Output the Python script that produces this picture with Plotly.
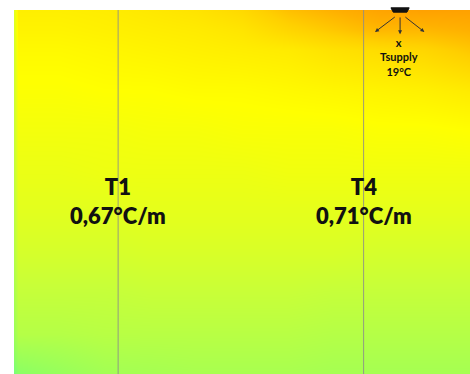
import plotly.graph_objects as go

# Room section: horizontal position (m) and height above floor (m)
x_pos = [0.0, 0.05, 0.6, 1.2, 1.8, 2.4, 3.0, 3.6, 4.2, 4.8, 5.4, 6.0]
heights = [0.0, 0.3, 0.6, 0.9, 1.2, 1.5, 1.8, 2.1, 2.4, 2.55, 2.7]

# Air temperature (°C), one row per height
temps = [
    [20.3, 20.5, 20.7, 20.9, 20.95, 21.0, 21.0, 21.0, 20.95, 20.95, 20.95, 20.95],
    [20.8, 21.2, 21.2, 21.25, 21.25, 21.25, 21.25, 21.25, 21.2, 21.2, 21.2, 21.2],
    [21.0, 21.45, 21.45, 21.45, 21.5, 21.5, 21.5, 21.5, 21.45, 21.45, 21.45, 21.45],
    [21.2, 21.7, 21.7, 21.7, 21.75, 21.75, 21.75, 21.75, 21.75, 21.7, 21.7, 21.7],
    [21.3, 21.9, 21.9, 21.9, 21.95, 21.95, 21.95, 21.95, 21.95, 21.95, 21.95, 21.95],
    [21.4, 22.05, 22.05, 22.1, 22.1, 22.1, 22.1, 22.15, 22.15, 22.15, 22.15, 22.15],
    [21.5, 22.2, 22.2, 22.2, 22.25, 22.25, 22.3, 22.3, 22.3, 22.35, 22.35, 22.4],
    [21.6, 22.35, 22.35, 22.4, 22.4, 22.45, 22.45, 22.5, 22.55, 22.6, 22.65, 22.75],
    [21.7, 22.5, 22.5, 22.55, 22.6, 22.65, 22.7, 22.75, 22.9, 23.0, 23.1, 23.3],
    [21.8, 22.6, 22.6, 22.65, 22.7, 22.75, 22.85, 23.1, 23.3, 23.5, 23.5, 23.6],
    [21.9, 22.68, 22.68, 22.72, 22.8, 22.88, 23.05, 23.4, 23.6, 23.8, 23.85, 23.85],
]

# Vertical measurement poles
sensor_names = ["T1", "T4"]
sensor_x = [1.37, 4.6]
gradients = ["0,67°C/m", "0,71°C/m"]
label_height = 1.28

# Supply diffuser at the ceiling
supply_x = 5.08
supply_label = "x<br>Tsupply<br>19°C"

room_w, room_h = 6.0, 2.7
t_min, t_max = 20.0, 24.0

colorscale = [
    [0.00, "#60ff90"],
    [0.15, "#90ff60"],
    [0.25, "#a8ff50"],
    [0.375, "#c8ff38"],
    [0.50, "#e8ff18"],
    [0.60, "#ffff00"],
    [0.70, "#ffe800"],
    [0.80, "#ffd000"],
    [0.90, "#ffb000"],
    [1.00, "#ff9800"],
]

fig = go.Figure(
    go.Heatmap(
        x=x_pos, y=heights, z=temps,
        zmin=t_min, zmax=t_max,
        colorscale=colorscale, zsmooth="best", showscale=False,
        hoverinfo="skip",
    )
)

for name, sx, grad in zip(sensor_names, sensor_x, gradients):
    fig.add_shape(type="line", x0=sx, x1=sx, y0=0, y1=room_h,
                  xref="x", yref="y",
                  line=dict(color="rgba(140,140,140,0.85)", width=1))
    fig.add_annotation(x=sx, y=label_height, xref="x", yref="y",
                       text=f"{name}<br>{grad}", showarrow=False,
                       font=dict(family="Lato", size=22, color="#111111",
                                 weight=800),
                       align="center")

# Diffuser body
fig.add_shape(type="path",
              path=f"M {supply_x-0.12},1.006 L {supply_x+0.12},1.006 "
                   f"L {supply_x+0.09},0.994 L {supply_x-0.09},0.994 Z",
              xref="x", yref="paper",
              fillcolor="#111111", line=dict(color="#111111", width=1))

# Supply air jets
jets = [(-0.05, -0.33, 2.656, 2.537), (0.0, 0.0, 2.656, 2.52), (0.05, 0.32, 2.656, 2.537)]
for dx_tail, dx_head, y_tail, y_head in jets:
    fig.add_annotation(x=supply_x + dx_head, y=y_head,
                       ax=supply_x + dx_tail, ay=y_tail,
                       xref="x", yref="y", axref="x", ayref="y",
                       text="", showarrow=True, arrowhead=2, arrowsize=0.8,
                       arrowwidth=1, arrowcolor="#333333")

fig.add_annotation(x=supply_x - 0.01, y=2.35, xref="x", yref="y",
                   text=f"<b>{supply_label}</b>", showarrow=False,
                   font=dict(family="Lato", size=11, color="#111111"),
                   align="center")

fig.update_xaxes(range=[0, room_w], visible=False, showgrid=False, zeroline=False)
fig.update_yaxes(range=[0, room_h], visible=False, showgrid=False, zeroline=False)
fig.update_layout(
    width=470, height=374,
    margin=dict(l=14, r=0, t=10, b=0),
    paper_bgcolor="white", plot_bgcolor="white",
    showlegend=False,
)

fig.write_html("out.html")
